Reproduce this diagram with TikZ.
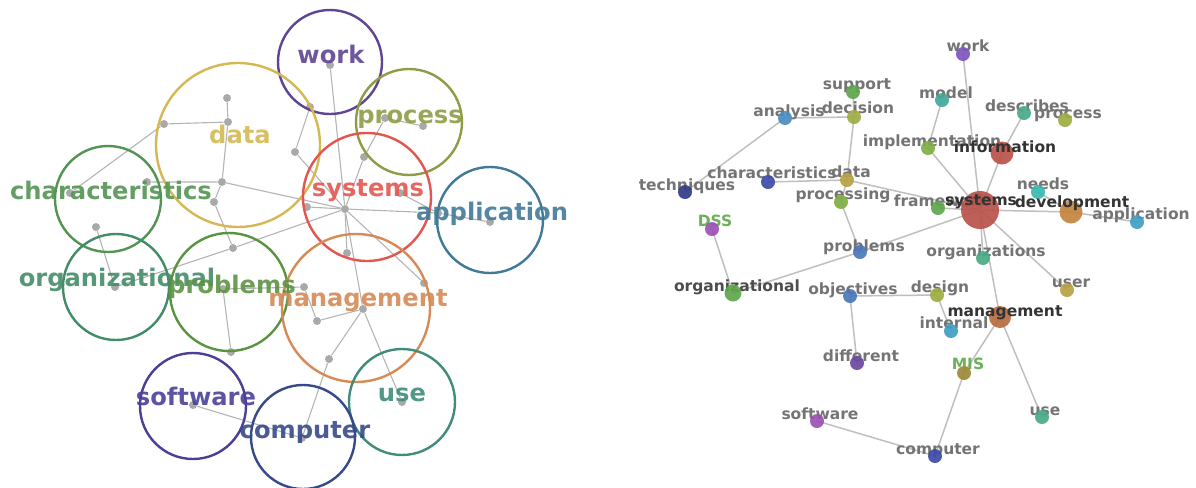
\documentclass[tikz,border=0pt]{standalone}
\usepackage{fontspec}
\setmainfont{DejaVu Sans}

% word colours, left panel
\definecolor{workc}{HTML}{5F4593}
\definecolor{datac}{HTML}{D4B853}
\definecolor{procc}{HTML}{8F9C45}
\definecolor{sysc}{HTML}{E3564F}
\definecolor{appc}{HTML}{417A98}
\definecolor{charc}{HTML}{539453}
\definecolor{orgc}{HTML}{438C68}
\definecolor{probc}{HTML}{5C9342}
\definecolor{mgmtc}{HTML}{D68A55}
\definecolor{usec}{HTML}{408C7A}
\definecolor{softc}{HTML}{4A4098}
\definecolor{compc}{HTML}{36498B}
\definecolor{dotgrey}{HTML}{A9A9A9}
\definecolor{linegrey}{HTML}{B4B4B4}
% dot colours, right panel
\definecolor{dpurple}{HTML}{7E55BE}
\definecolor{dteal}{HTML}{43A99B}
\definecolor{dsea}{HTML}{49AA86}
\definecolor{dolive}{HTML}{A0AC42}
\definecolor{dgreen}{HTML}{5EA64C}
\definecolor{dlime}{HTML}{7FAE42}
\definecolor{dblue}{HTML}{4A8DC2}
\definecolor{dnavy}{HTML}{3E4BA6}
\definecolor{dgold}{HTML}{B9A143}
\definecolor{dred}{HTML}{B9524A}
\definecolor{dorange}{HTML}{C4843F}
\definecolor{dcyan}{HTML}{3F9EC4}
\definecolor{dmauve}{HTML}{9A52B4}
\definecolor{dsteel}{HTML}{4B77BA}
\definecolor{dbrown}{HTML}{B86C40}
\definecolor{dtext}{HTML}{747474}
\definecolor{dark}{HTML}{333333}
\definecolor{dssgreen}{HTML}{6DB05B}

\begin{document}
\begin{tikzpicture}[x=0.5pt, y=-0.5pt,
        ring/.style={circle, draw, line width=1.2pt, inner sep=0pt},
        bigword/.style={font=\bfseries\fontsize{12.1}{14}\selectfont, anchor=base, inner sep=0pt, opacity=0.9},
        gdot/.style={circle, fill=dotgrey, inner sep=0pt, minimum size=4pt},
        glink/.style={draw=linegrey, line width=0.55pt},
        cdot/.style={circle, fill=#1, fill opacity=0.92, inner sep=0pt, minimum size=7pt},
        rlink/.style={draw=linegrey!85, line width=0.75pt},
        smallword/.style={font=\bfseries\fontsize{7.75}{9}\selectfont, anchor=base, inner sep=0pt, text=dtext}
    ]
    \useasboundingbox (0,0) rectangle (1196,488);

    % ---- left: word circles ----
    \node[gdot] (lsys) at (345,209) {};
    \node[gdot] (lwork) at (330,65) {};
    \node[gdot] (lmodel) at (310,107) {};
    \node[gdot] (limpl) at (295,152) {};
    \node[gdot] (linfo) at (364,157) {};
    \node[gdot] (ldescr) at (385,118) {};
    \node[gdot] (lproc) at (423,126) {};
    \node[gdot] (lsupp) at (227,98) {};
    \node[gdot] (ldeci) at (228,122) {};
    \node[gdot] (lanal) at (164,124) {};
    \node[gdot] (ltech) at (70,193) {};
    \node[gdot] (lchar) at (147,182) {};
    \node[gdot] (ldata) at (222,182) {};
    \node[gdot] (lprocg) at (214,202) {};
    \node[gdot] (lprob) at (233,248) {};
    \node[gdot] (lorgl) at (115,287) {};
    \node[gdot] (ldss) at (96,227) {};
    \node[gdot] (lobj) at (223,289) {};
    \node[gdot] (ldiff) at (231,352) {};
    \node[gdot] (ldes) at (304,287) {};
    \node[gdot] (lint) at (317,321) {};
    \node[gdot] (lframe) at (307,207) {};
    \node[gdot] (lorgs) at (347,253) {};
    \node[gdot] (lmgmt) at (363,309) {};
    \node[gdot] (lmis) at (329,359) {};
    \node[gdot] (lcomp) at (302,438) {};
    \node[gdot] (lsoft) at (193,405) {};
    \node[gdot] (luse) at (402,402) {};
    \node[gdot] (luser) at (424,283) {};
    \node[gdot] (lneeds) at (400,193) {};
    \node[gdot] (ldev) at (438,213) {};
    \node[gdot] (lapp) at (490,222) {};

    \draw[glink] (ltech) -- (lanal) -- (ldeci) -- (ldata) -- (lsys);
    \draw[glink] (lsupp) -- (ldeci);
    \draw[glink] (lchar) -- (ldata) -- (lprocg) -- (lprob) -- (lsys);
    \draw[glink] (ldss) -- (lorgl) -- (lprob);
    \draw[glink] (ldiff) -- (lobj) -- (ldes) -- (lint) -- (lmgmt);
    \draw[glink] (lwork) -- (lsys);
    \draw[glink] (lmodel) -- (limpl) -- (lsys);
    \draw[glink] (lproc) -- (ldescr) -- (linfo) -- (lsys);
    \draw[glink] (lframe) -- (lsys) -- (lorgs);
    \draw[glink] (lsys) -- (lmgmt) -- (luse);
    \draw[glink] (lmgmt) -- (lmis) -- (lcomp) -- (lsoft);
    \draw[glink] (lsys) -- (luser);
    \draw[glink] (lsys) -- (ldev) -- (lapp);
    \draw[glink] (lneeds) -- (ldev);

    \node[ring, draw=workc, minimum size=52pt] (cwork) at (330,62) {};
    \node[ring, draw=datac, minimum size=82pt] (cdata) at (238,145) {};
    \node[ring, draw=procc, minimum size=53pt] (cproc) at (409,122) {};
    \node[ring, draw=sysc, minimum size=64pt] (csys) at (367,197) {};
    \node[ring, draw=appc, minimum size=53pt] (capp) at (490,220) {};
    \node[ring, draw=charc, minimum size=53pt] (cchar) at (108,199) {};
    \node[ring, draw=orgc, minimum size=53pt] (corg) at (116,287) {};
    \node[ring, draw=probc, minimum size=59pt] (cprob) at (229,292) {};
    \node[ring, draw=mgmtc, minimum size=74pt] (cmgmt) at (356,308) {};
    \node[ring, draw=usec, minimum size=53pt] (cuse) at (402,402) {};
    \node[ring, draw=softc, minimum size=53pt] (csoft) at (193,406) {};
    \node[ring, draw=compc, minimum size=52pt] (ccomp) at (303,437) {};

    \node[bigword, text=workc] (wwork) at (331,63) {work};
    \node[bigword, text=datac] (wdata) at (240,143) {data};
    \node[bigword, text=procc] (wproc) at (410,123) {process};
    \node[bigword, text=sysc] (wsys) at (368,196) {systems};
    \node[bigword, text=appc] (wapp) at (492,220) {application};
    \node[bigword, text=charc] (wchar) at (111,199) {characteristics};
    \node[bigword, text=orgc] (worg) at (117,286) {organizational};
    \node[bigword, text=probc] (wprob) at (232,293) {problems};
    \node[bigword, text=mgmtc] (wmgmt) at (358,306) {management};
    \node[bigword, text=usec] (wuse) at (402,401) {use};
    \node[bigword, text=softc] (wsoft) at (196,405) {software};
    \node[bigword, text=compc] (wcomp) at (305,438) {computer};

    % ---- right: term graph ----
    \coordinate (rwork) at (963,54);
    \coordinate (rmodel) at (942,100);
    \coordinate (rdescr) at (1024,113);
    \coordinate (rproc) at (1065,120);
    \coordinate (rsupp) at (853,92);
    \coordinate (rdeci) at (854,117);
    \coordinate (ranal) at (785,118);
    \coordinate (rimpl) at (928,148);
    \coordinate (rinfo) at (1002,153);
    \coordinate (rchar) at (768,182);
    \coordinate (rdata) at (847,180);
    \coordinate (rtech) at (685,192);
    \coordinate (rprocg) at (841,202);
    \coordinate (rframe) at (938,208);
    \coordinate (rsys) at (980,210);
    \coordinate (rneeds) at (1038,192);
    \coordinate (rdev) at (1071,212);
    \coordinate (rapp) at (1137,222);
    \coordinate (rdss) at (712,229);
    \coordinate (rprob) at (860,252);
    \coordinate (rorgs) at (983,258);
    \coordinate (rorgl) at (733,293);
    \coordinate (robj) at (850,296);
    \coordinate (rdes) at (937,295);
    \coordinate (ruser) at (1067,290);
    \coordinate (rmgmt) at (1000,317);
    \coordinate (rint) at (951,331);
    \coordinate (rdiff) at (857,363);
    \coordinate (rmis) at (964,373);
    \coordinate (ruse) at (1042,417);
    \coordinate (rsoft) at (817,421);
    \coordinate (rcomp) at (935,456);

    \draw[rlink] (rwork) -- (rsys);
    \draw[rlink] (rmodel) -- (rimpl) -- (rsys);
    \draw[rlink] (rdescr) -- (rinfo) -- (rsys);
    \draw[rlink] (rtech) -- (ranal) -- (rdeci) -- (rdata) -- (rsys);
    \draw[rlink] (rsupp) -- (rdeci);
    \draw[rlink] (rchar) -- (rdata) -- (rprocg) -- (rprob) -- (rsys);
    \draw[rlink] (rdss) -- (rorgl) -- (rprob);
    \draw[rlink] (rdiff) -- (robj) -- (rdes) -- (rint);
    \draw[rlink] (rframe) -- (rsys);
    \draw[rlink] (rsys) -- (rorgs);
    \draw[rlink] (rsys) -- (rmgmt) -- (ruse);
    \draw[rlink] (rmgmt) -- (rmis) -- (rcomp) -- (rsoft);
    \draw[rlink] (rsys) -- (ruser);
    \draw[rlink] (rsys) -- (rdev) -- (rapp);
    \draw[rlink] (rneeds) -- (rdev);

    \node[smallword] (twork) at (968,51) {work};
    \node[smallword] (tmodel) at (946,98) {model};
    \node[smallword] (tdescr) at (1027,111) {describes};
    \node[smallword] (tproc) at (1068,118) {process};
    \node[smallword] (tsupp) at (857,89) {support};
    \node[smallword] (tdeci) at (858,113) {decision};
    \node[smallword] (tanal) at (789,116) {analysis};
    \node[smallword] (timpl) at (932,146) {implementation};
    \node[smallword] (tchar) at (772,178) {characteristics};
    \node[smallword] (tdata) at (851,177) {data};
    \node[smallword] (ttech) at (687,190) {techniques};
    \node[smallword] (tprocg) at (843,199) {processing};
    \node[smallword] (tframe) at (941,206) {framework};
    \node[smallword] (tneeds) at (1043,189) {needs};
    \node[smallword] (tapp) at (1141,219) {application};
    \node[smallword, text=dssgreen] (tdss) at (715,226) {DSS};
    \node[smallword] (tprob) at (864,251) {problems};
    \node[smallword] (torgs) at (986,256) {organizations};
    \node[smallword, text=black!70] (torgl) at (737,291) {organizational};
    \node[smallword] (tobj) at (853,294) {objectives};
    \node[smallword] (tdes) at (940,292) {design};
    \node[smallword] (tuser) at (1071,287) {user};
    \node[smallword] (tint) at (954,328) {internal};
    \node[smallword] (tdiff) at (861,361) {different};
    \node[smallword, text=dssgreen] (tmis) at (968,369) {MIS};
    \node[smallword] (tuse) at (1045,415) {use};
    \node[smallword] (tsoft) at (820,419) {software};
    \node[smallword] (tcomp) at (938,454) {computer};

    \node[cdot=dpurple] (nwork) at (rwork) {};
    \node[cdot=dteal] (nmodel) at (rmodel) {};
    \node[cdot=dsea] (ndescr) at (rdescr) {};
    \node[cdot=dolive] (nproc) at (rproc) {};
    \node[cdot=dgreen] (nsupp) at (rsupp) {};
    \node[cdot=dolive] (ndeci) at (rdeci) {};
    \node[cdot=dblue] (nanal) at (ranal) {};
    \node[cdot=dlime] (nimpl) at (rimpl) {};
    \node[cdot=dred, minimum size=11.5pt] (ninfo) at (rinfo) {};
    \node[cdot=dnavy] (nchar) at (rchar) {};
    \node[cdot=dgold] (ndata) at (rdata) {};
    \node[cdot=dnavy!80!black] (ntech) at (rtech) {};
    \node[cdot=dlime] (nprocg) at (rprocg) {};
    \node[cdot=dgreen] (nframe) at (rframe) {};
    \node[cdot=dteal!80!cyan] (nneeds) at (rneeds) {};
    \node[cdot=dorange, minimum size=11.5pt] (ndev) at (rdev) {};
    \node[cdot=dcyan] (napp) at (rapp) {};
    \node[cdot=dmauve] (ndss) at (rdss) {};
    \node[cdot=dsteel] (nprob) at (rprob) {};
    \node[cdot=dsea] (norgs) at (rorgs) {};
    \node[cdot=dgreen, minimum size=8.5pt] (norgl) at (rorgl) {};
    \node[cdot=dsteel] (nobj) at (robj) {};
    \node[cdot=dolive] (ndes) at (rdes) {};
    \node[cdot=dgold] (nuser) at (ruser) {};
    \node[cdot=dbrown, minimum size=11pt] (nmgmt) at (rmgmt) {};
    \node[cdot=dcyan] (nint) at (rint) {};
    \node[cdot=dpurple!85!black] (ndiff) at (rdiff) {};
    \node[cdot=dgold!85!black] (nmis) at (rmis) {};
    \node[cdot=dsea] (nuse) at (ruse) {};
    \node[cdot=dmauve] (nsoft) at (rsoft) {};
    \node[cdot=dnavy] (ncomp) at (rcomp) {};
    \node[cdot=dred, minimum size=19pt] (nsys) at (rsys) {};

    \node[smallword, text=dark] (tinfo) at (1005,152) {information};
    \node[smallword, text=dark] (tsys) at (981,205) {systems};
    \node[smallword, text=dark] (tdev) at (1072,207) {development};
    \node[smallword, text=dark] (tmgmt) at (1005,316) {management};
\end{tikzpicture}
\end{document}
